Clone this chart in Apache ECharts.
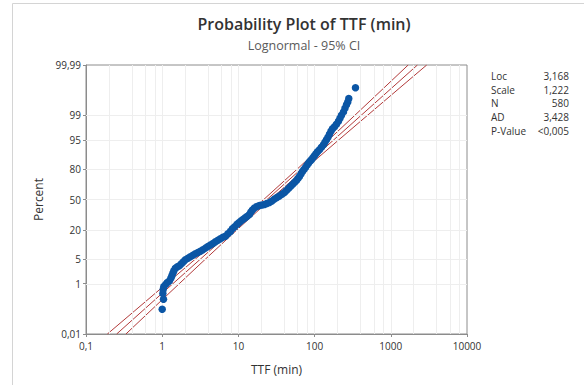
<!DOCTYPE html>
<html><head><meta charset="utf-8">
<script src="https://cdn.jsdelivr.net/npm/echarts@6/dist/echarts.min.js"></script>
<style>html,body{margin:0;padding:0;background:#fff;}#c{width:584px;height:385px;}</style>
</head><body><div id="c"></div>
<script>
// ---- data ----
const ttf = [1.0,1.04,1.02,1.03,1.05,1.117,1.169,1.241,1.299,1.339,1.380,1.422,1.488,1.581,1.680,1.784,1.896,2.014,2.172,2.342,2.526,2.725,2.939,3.170,3.419,3.687,3.977,4.289,4.626,4.989,5.381,5.803,6.258,6.751,7.281,7.852,8.341,8.861,9.557,10.15,10.79,11.46,12.17,12.93,13.94,14.59,15.28,16.23,17.50,18.87,20.35,21.95,23.67,25.53,27.54,29.70,32.03,34.54,37.26,40.19,42.69,45.36,48.18,51.18,54.37,57.76,60.44,63.25,66.19,69.26,72.48,75.85,79.36,83.04,86.89,90.93,95.15,99.54,104.2,109.0,115.8,123.0,130.7,136.8,143.1,149.8,156.7,164.0,171.6,182.3,193.6,205.7,215.3,225.3,239.3,250.4,262.0,272.5,280.9,343.9];
const percent = [0.12,0.29,0.47,0.64,0.80,0.96,1.09,1.22,1.48,1.76,2.07,2.44,2.87,3.14,3.35,3.78,4.25,4.78,5.21,5.66,6.14,6.67,7.11,7.60,8.21,8.94,9.68,10.40,11.16,12.08,12.94,13.94,14.76,15.53,17.10,18.89,20.98,22.43,24.55,26.05,27.59,29.08,30.51,31.99,33.98,36.54,38.63,40.74,42.35,43.45,43.96,44.51,45.62,46.70,48.36,50.55,52.19,53.84,55.80,57.65,59.79,61.91,63.98,66.02,68.01,69.96,71.87,73.69,75.87,77.97,79.57,81.11,82.90,84.27,85.56,86.48,87.64,88.72,89.74,90.69,91.58,92.59,93.51,94.34,95.08,95.75,96.44,97.04,97.48,97.78,98.12,98.47,98.76,99.00,99.23,99.42,99.56,99.65,99.74,99.90];
const ciPercent = [0.01,0.1,1,5,20,50,80,95,99,99.9,99.99];
const fitTTF   = [0.2525,0.5444,1.384,3.183,8.496,23.76,66.44,177.4,407.7,1037,2236];
const lowerTTF = [0.1908,0.4287,1.143,2.733,7.567,21.51,59.18,152.3,336.6,816.6,1690];
const upperTTF = [0.3340,0.6914,1.677,3.708,9.538,26.25,74.60,206.6,493.9,1317,2959];
const yTickPercent = [0.01,1,5,20,50,80,95,99,99.99];
const yTickLabel = ['0,01','1','5','20','50','80','95','99','99,99'];
const yGridPercent = [1,5,20,50,80,95,99];
const xGridValues = [0.2,0.4,0.6,0.8,1,2,4,6,8,10,20,40,60,80,100,200,400,600,800,1000,2000,4000,6000,8000];
const statLabels = ['Loc','Scale','N','AD','P-Value'];
const statValues = ['3,168','1,222','580','3,428','<0,005'];
const titleText = 'Probability Plot of TTF (min)';
const subtitleText = 'Lognormal - 95% CI';

// normal quantile (probability scale transform)
function probit(p){
 const a=[-3.969683028665376e+01,2.209460984245205e+02,-2.759285104469687e+02,1.383577518672690e+02,-3.066479806614716e+01,2.506628277459239e+00];
 const b=[-5.447609879822406e+01,1.615858368580409e+02,-1.556989798598866e+02,6.680131188771972e+01,-1.328068155288572e+01];
 const c=[-7.784894002430293e-03,-3.223964580411365e-01,-2.400758277161838e+00,-2.549732539343734e+00,4.374664141464968e+00,2.938163982698783e+00];
 const d=[7.784695709041462e-03,3.224671290700398e-01,2.445134137142996e+00,3.754408661907416e+00];
 const pl=0.02425, ph=1-pl; let q,r;
 if(p<pl){q=Math.sqrt(-2*Math.log(p));return (((((c[0]*q+c[1])*q+c[2])*q+c[3])*q+c[4])*q+c[5])/((((d[0]*q+d[1])*q+d[2])*q+d[3])*q+1);}
 if(p<=ph){q=p-0.5;r=q*q;return (((((a[0]*r+a[1])*r+a[2])*r+a[3])*r+a[4])*r+a[5])*q/(((((b[0]*r+b[1])*r+b[2])*r+b[3])*r+b[4])*r+1);}
 q=Math.sqrt(-2*Math.log(1-p));return -(((((c[0]*q+c[1])*q+c[2])*q+c[3])*q+c[4])*q+c[5])/((((d[0]*q+d[1])*q+d[2])*q+d[3])*q+1);
}
const Z = p => probit(p/100);
const yTickZ = yTickPercent.map(Z);
const zMin = Z(0.01), zMax = Z(99.99);

const FONT = 'Open Sans';
const TXT = '#333333';
const AX = '#8c8c8c';
const RED = '#b23a3a';
const BLUE = '#0b56a5';

const pts = ttf.map((t,i)=>[t, Z(percent[i])]);
const fitLine = fitTTF.map((t,i)=>[t, Z(ciPercent[i])]);
const loLine = lowerTTF.map((t,i)=>[t, Z(ciPercent[i])]);
const upLine = upperTTF.map((t,i)=>[t, Z(ciPercent[i])]);

const gridLines = xGridValues.map(v=>({xAxis:v})).concat(yGridPercent.map(p=>({yAxis:Z(p)})));

const statGraphics = [];
statLabels.forEach((s,i)=>{
  const y = 76 + i*13.7;
  statGraphics.push({type:'text', x:491, y:y, style:{text:s, fill:TXT, font:'10px "'+FONT+'"', textAlign:'left', textVerticalAlign:'middle'}});
  statGraphics.push({type:'text', x:569, y:y, style:{text:statValues[i], fill:TXT, font:'10px "'+FONT+'"', textAlign:'right', textVerticalAlign:'middle'}});
});

const chart = echarts.init(document.getElementById('c'), null, {renderer:'svg'});
chart.setOption({
  animation:false,
  backgroundColor:'#ffffff',
  grid:{left:86, right:117, top:65, bottom:51, show:true, borderColor:AX, borderWidth:1, backgroundColor:'transparent'},
  xAxis:{
    type:'log', logBase:10, min:0.1, max:10000,
    name:'TTF (min)', nameLocation:'middle', nameGap:29,
    nameTextStyle:{fontFamily:FONT, fontSize:12, color:TXT},
    axisLine:{show:true, onZero:false, lineStyle:{color:AX}},
    axisTick:{show:true, length:3, lineStyle:{color:AX}},
    axisLabel:{margin:7, fontFamily:FONT, fontSize:10, color:TXT, formatter:v=>String(v).replace('.',',')},
    splitLine:{show:false}, minorSplitLine:{show:false}
  },
  yAxis:{
    type:'value', min:zMin, max:zMax,
    name:'Percent', nameLocation:'middle', nameGap:41, nameRotate:90,
    nameTextStyle:{fontFamily:FONT, fontSize:12, color:TXT},
    axisLine:{show:true, onZero:false, lineStyle:{color:AX}},
    axisTick:{show:true, length:3, lineStyle:{color:AX}, customValues:yTickZ},
    axisLabel:{margin:5, fontFamily:FONT, fontSize:10, color:TXT, customValues:yTickZ,
      formatter:v=>{let best=0,bd=1e9;yTickZ.forEach((z,i)=>{const dd=Math.abs(z-v);if(dd<bd){bd=dd;best=i;}});return yTickLabel[best];}},
    splitLine:{show:false}
  },
  title:[
    {text:titleText, left:299, top:11, textAlign:'center', textStyle:{fontFamily:FONT, fontSize:16, fontWeight:600, color:TXT}},
    {text:subtitleText, left:299, top:34, textAlign:'center', textStyle:{fontFamily:FONT, fontSize:12.5, fontWeight:'normal', color:'#5a5a5a'}}
  ],
  graphic:[
    {type:'polyline', shape:{points:[[12.5,385],[12.5,3.5],[584,3.5]]}, style:{stroke:'#d4d4d4', lineWidth:1, fill:null}, silent:true}
  ].concat(statGraphics),
  series:[
    {type:'line', data:[[1,0]], symbol:'none', lineStyle:{opacity:0}, silent:true, z:1,
      markLine:{silent:true, symbol:'none', label:{show:false}, lineStyle:{color:'#eeeeee', type:'solid', width:1}, data:gridLines}},
    {type:'line', data:loLine, symbol:'none', smooth:false, lineStyle:{color:RED, width:1}, z:3, silent:true},
    {type:'line', data:fitLine, symbol:'none', lineStyle:{color:RED, width:1}, z:3, silent:true},
    {type:'line', data:upLine, symbol:'none', smooth:false, lineStyle:{color:RED, width:1}, z:3, silent:true},
    {type:'scatter', data:pts, symbol:'circle', symbolSize:7.5, itemStyle:{color:BLUE, opacity:1}, z:5, silent:true}
  ]
});
</script></body></html>
